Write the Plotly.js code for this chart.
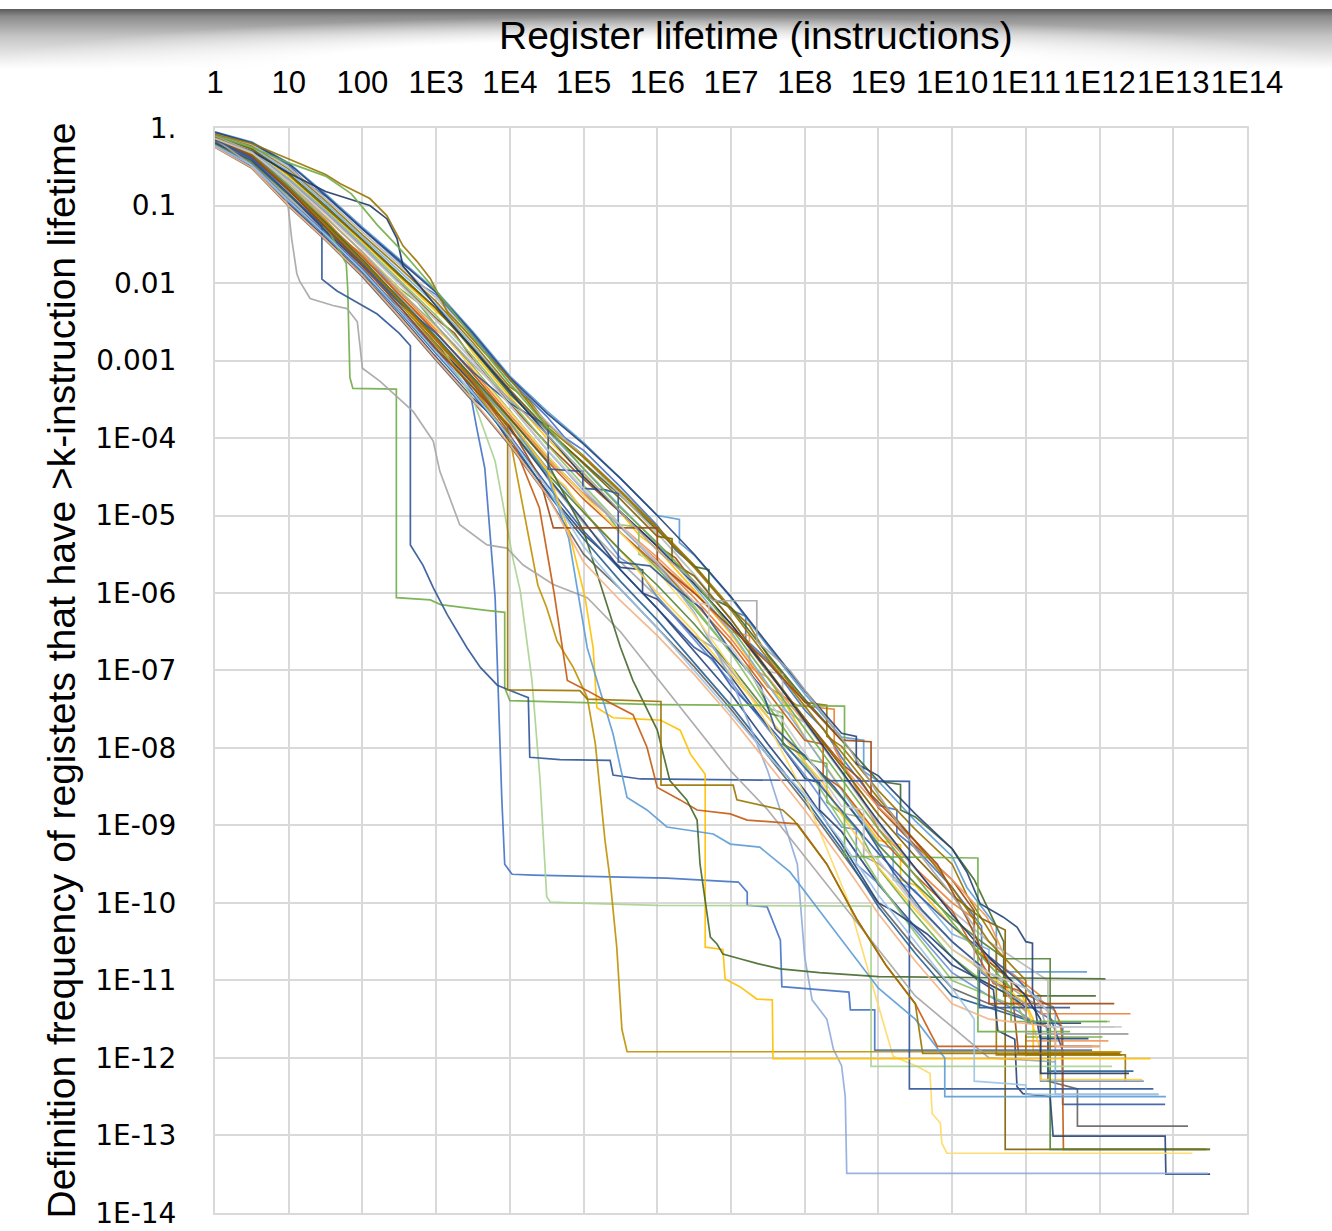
<!DOCTYPE html>
<html><head><meta charset="utf-8">
<script src="https://cdn.plot.ly/plotly-3.0.1.min.js"></script>
<style>
html,body{margin:0;padding:0;background:#fff;}
#wrap{position:relative;width:1332px;height:1231px;overflow:hidden;background:#fff;}
#band{position:absolute;left:0;top:9px;width:1332px;height:60px;
 background: radial-gradient(ellipse 52% 88% at 50% 100%, #fff 55%, rgba(255,255,255,0) 100%),
             linear-gradient(to bottom, #5a5a5a 0%, #8a8a8a 12%, #c4c4c4 45%, #fff 100%);}
#chart{position:absolute;left:0;top:0;width:1332px;height:1231px;}
</style></head><body>
<div id="wrap"><div id="band"></div><div id="chart"></div></div>
<script>
// Each series: pairs of [log10(lifetime), log10(frequency)]
const s01=[[0,-.06],[.5,-.20],[1,-.48],[1.25,-.72],[1.5,-.88],[2,-1.31],[2.5,-1.73],[2.75,-2.0],[3,-2.15],[3.5,-2.68],[4,-3.25],[4.5,-3.72],[4.75,-4.0],[5,-4.16],[5.5,-4.63],[6,-5.13],[6.25,-5.45],[6.5,-5.65],[7,-6.22],[7.2,-6.3],[7.2,-6.6],[7.5,-6.87],[8,-7.51],[8.25,-7.75],[8.5,-8.12],[9,-8.74],[9.25,-8.8],[9.25,-9.1],[9.5,-9.29],[10,-9.8],[10.4,-10.3],[10.4,-10.9],[11,-11.3],[11.5,-11.6],[11.5,-11.85],[11.9,-11.85]];
const s02=[[0,-.16],[.5,-.37],[1,-.76],[1.5,-1.18],[1.75,-1.45],[2,-1.63],[2.5,-2.11],[3,-2.60],[3.25,-2.80],[3.5,-3.13],[4,-3.70],[4.5,-4.24],[5,-4.72],[5.25,-4.88],[5.5,-5.15],[6,-5.58],[6.5,-6.06],[7,-6.59],[7.5,-7.21],[7.9,-7.45],[8.4,-7.5],[8.4,-8.0],[9,-9.04],[9.5,-9.55],[10,-10.0],[10.3,-10.2],[10.3,-10.6],[10.8,-10.9],[11.2,-11.2],[11.2,-11.43],[12.42,-11.43]];
const s03=[[0,-.21],[.5,-.45],[1,-.90],[1.5,-1.33],[2,-1.79],[2.25,-2.1],[2.5,-2.30],[3,-2.82],[3.5,-3.35],[4,-3.92],[4.25,-4.1],[4.5,-4.51],[5,-5.1],[5.5,-5.6],[6,-6.05],[6.5,-6.55],[6.75,-6.7],[7,-7.0],[7.5,-7.6],[8,-8.18],[8.5,-8.84],[8.8,-8.9],[8.8,-9.4],[9,-9.49],[9.25,-9.7],[9.5,-10.02],[10,-10.5],[10.5,-10.9],[10.8,-11.1],[11.2,-11.35],[11.3,-11.69],[12.39,-11.69]];
const s04=[[0,-.11],[.5,-.28],[1,-.62],[1.5,-1.03],[2,-1.47],[2.5,-1.92],[3,-2.37],[3.25,-2.55],[3.5,-2.90],[4,-3.47],[4.5,-4.0],[5,-4.48],[5.5,-4.96],[5.75,-5.25],[6,-5.43],[6.5,-5.96],[7,-6.53],[7.5,-7.19],[7.75,-7.45],[8,-7.86],[8.5,-8.52],[9,-9.19],[9.3,-9.25],[9.3,-9.7],[9.5,-9.77],[10,-10.3],[10.5,-10.75],[10.9,-11.10],[11.1,-11.50],[11.1,-11.92],[12.25,-11.92]];
const s05=[[0,-.05],[.5,-.18],[1,-.45],[1.5,-.85],[2,-1.28],[2.5,-1.69],[3,-2.10],[3.5,-2.63],[4,-3.20],[4.5,-3.65],[5,-4.06],[5.5,-4.52],[6,-5.0],[6.3,-5.05],[6.3,-5.35],[6.5,-5.51],[7,-6.06],[7.5,-6.69],[8,-7.30],[8.5,-7.86],[8.8,-7.9],[8.8,-8.3],[9,-8.43],[9.5,-8.94],[10,-9.4],[10.2,-9.8],[10.6,-10.3],[10.6,-10.89],[11.83,-10.89]];
const s06=[[0,-.15],[.5,-.35],[1,-.73],[1.5,-1.15],[2,-1.6],[2.5,-2.07],[2.75,-2.25],[3,-2.55],[3.5,-3.08],[4,-3.65],[4.5,-4.22],[5,-4.74],[5.25,-4.9],[5.5,-5.22],[6,-5.68],[6.5,-6.20],[7,-6.77],[7.25,-7.0],[7.5,-7.45],[8,-8.14],[8.3,-8.2],[8.3,-8.7],[8.5,-8.84],[8.75,-9.1],[9,-9.55],[9.5,-10.15],[10,-10.7],[10.4,-11.0],[10.8,-11.2],[11,-11.4],[11,-11.73],[12.04,-11.73]];
const s07=[[0,-.24],[.5,-.50],[1,-.98],[1.5,-1.42],[2,-1.89],[2.5,-2.41],[3,-2.96],[3.5,-3.49],[3.75,-3.7],[4,-4.06],[4.5,-4.68],[5,-5.24],[5.5,-5.67],[5.8,-5.7],[5.8,-6.0],[6,-6.08],[6.5,-6.56],[7,-7.08],[7.5,-7.73],[8,-8.39],[8.2,-8.45],[8.2,-8.8],[8.5,-9.08],[9,-9.76],[9.5,-10.31],[10,-10.8],[10.5,-11.05],[10.8,-11.2],[11,-11.35],[11,-11.55],[11.75,-11.55]];
const s08=[[0,-.13],[.5,-.32],[1,-.67],[1.5,-1.09],[2,-1.54],[2.5,-1.99],[3,-2.46],[3.25,-2.65],[3.5,-2.99],[4,-3.56],[4.5,-4.07],[5,-4.53],[5.5,-4.96],[6,-5.39],[6.25,-5.55],[6.5,-5.87],[7,-6.40],[7.5,-7.02],[8,-7.62],[8.5,-8.2],[8.75,-8.4],[9,-8.77],[9.5,-9.26],[10,-9.7],[10.3,-10.1],[10.3,-10.6],[10.8,-11.0],[10.9,-11.94],[12.28,-11.94]];
const s09=[[0,-.25],[.5,-.52],[1,-1.01],[1.5,-1.45],[2,-1.92],[2.5,-2.45],[3,-3.0],[3.5,-3.53],[4,-4.10],[4.5,-4.74],[5,-5.5],[5.5,-5.95],[6,-6.45],[6.5,-6.95],[7,-7.5],[7.5,-8.1],[8,-8.7],[8.5,-9.35],[9,-10.0],[9.5,-10.58],[10,-11.1],[10.5,-11.3],[11.3,-11.6],[11.3,-12.30],[11.7,-12.40],[11.7,-12.88],[13.2,-12.88]];
const s10=[[0,-.08],[.5,-.23],[1,-.53],[1.5,-.94],[2,-1.38],[2.5,-1.80],[3,-2.24],[3.5,-2.77],[4,-3.34],[4.25,-3.5],[4.5,-3.81],[5,-4.23],[5.5,-4.68],[6,-5.15],[6.5,-5.64],[7,-6.19],[7.25,-6.42],[7.5,-6.81],[8,-7.41],[8.3,-7.45],[8.3,-7.85],[8.5,-7.98],[9,-8.55],[9.5,-9.05],[10,-9.5],[10.2,-9.9],[10.6,-10.5],[10.6,-11.96],[12.35,-11.96],[12.35,-12.30]];
const s11=[[0,-.23],[.5,-.49],[1,-.95],[1.5,-1.39],[2,-1.86],[2.5,-2.37],[3,-2.91],[3.5,-3.44],[4,-4.01],[4.5,-4.7],[5,-5.3],[5.5,-5.85],[6,-6.35],[6.5,-6.9],[7,-7.45],[7.5,-8.05],[8,-8.65],[8.5,-9.3],[9,-10.05],[9.5,-10.65],[10,-11.2],[10.5,-11.35],[11.0,-11.5],[11.3,-11.6],[11.3,-12.17],[12.46,-12.17]];
const s12=[[0,-.10],[.5,-.27],[1,-.59],[1.5,-1.0],[2,-1.44],[2.5,-1.88],[3,-2.33],[3.5,-2.86],[4,-3.43],[4.5,-3.90],[5,-4.32],[5.5,-4.74],[6,-5.19],[6.5,-5.66],[6.7,-5.7],[6.7,-6.05],[7,-6.19],[7.5,-6.79],[8,-7.37],[8.5,-7.9],[9,-8.43],[9.3,-8.47],[9.3,-8.8],[9.5,-8.89],[10,-9.3],[10.3,-9.7],[10.7,-10.5],[10.7,-11.2],[11.95,-11.2]];
const s13=[[0,-.18],[.5,-.40],[1,-.81],[1.5,-1.24],[2,-1.70],[2.25,-1.87],[2.5,-2.18],[3,-2.69],[3.5,-3.22],[4,-3.79],[4.5,-4.38],[5,-4.93],[5.5,-5.55],[5.75,-5.7],[6,-6.05],[6.5,-6.6],[7,-7.15],[7.5,-7.75],[8,-8.35],[8.5,-9.02],[8.7,-9.05],[8.7,-9.5],[9,-9.75],[9.5,-10.35],[10,-10.9],[10.5,-11.2],[10.9,-11.4],[11.2,-11.6],[11.2,-12.30],[12.6,-12.30]];
const s14=[[0,-.17],[.5,-.38],[1,-.79],[1.5,-1.21],[2,-1.66],[2.5,-2.15],[3,-2.64],[3.5,-3.17],[4,-3.74],[4.5,-4.27],[5,-4.73],[5.5,-5.13],[6,-5.54],[6.5,-5.99],[7,-6.50],[7.25,-6.55],[7.25,-6.95],[7.5,-7.09],[8,-7.67],[8.5,-8.22],[9,-8.76],[9.5,-9.21],[9.66,-9.41],[10,-9.70],[10.47,-10.18],[10.72,-10.70],[10.75,-11.20],[11.0,-11.40],[11.0,-11.78],[12.12,-11.78]];
const s15=[[0,-.07],[.5,-.21],[1,-.51],[1.5,-.91],[2,-1.34],[2.5,-1.77],[3,-2.19],[3.5,-2.72],[4,-3.29],[4.5,-3.79],[5,-4.25],[5.5,-4.73],[6,-5.23],[6.5,-5.76],[7,-6.34],[7.5,-7.01],[7.7,-7.05],[7.7,-7.5],[8,-7.67],[8.5,-8.32],[9,-8.98],[9.5,-9.56],[10,-10.1],[10.5,-10.5],[10.9,-10.75],[11.3,-11.0],[11.3,-11.60],[12.2,-11.60]];
const s16=[[0,-.19],[.5,-.42],[1,-.84],[1.5,-1.27],[2,-1.73],[2.5,-2.22],[3,-2.73],[3.5,-3.26],[4,-3.83],[4.5,-4.42],[4.75,-4.62],[5,-4.95],[5.5,-5.45],[6,-6.0],[6.5,-6.5],[7,-7.05],[7.5,-7.6],[8,-8.18],[8.25,-8.45],[8.5,-8.86],[9,-9.54],[9.5,-10.09],[10,-10.6],[10.6,-11.0],[11,-11.3],[11.2,-11.9],[11.2,-12.28],[12.58,-12.28]];
const s17=[[0,-.09],[.5,-.25],[1,-.56],[1.5,-.97],[2,-1.41],[2.5,-1.84],[3,-2.28],[3.5,-2.81],[4,-3.38],[4.5,-3.90],[5,-4.39],[5.5,-4.87],[6,-5.37],[6.5,-5.91],[7,-6.50],[7.5,-7.18],[8,-7.86],[8.5,-8.54],[9,-9.24],[9.2,-9.3],[9.2,-9.7],[9.5,-9.84],[10,-10.4],[10.5,-10.6],[10.5,-10.9],[11,-11.1],[11.4,-11.40],[11.4,-12.47],[12.8,-12.47]];
const s18=[[0,-.12],[.5,-.30],[1,-.65],[1.5,-1.06],[2,-1.50],[2.5,-1.96],[3,-2.42],[3.5,-2.95],[4,-3.52],[4.5,-4.08],[5,-4.61],[5.5,-5.12],[5.75,-5.15],[5.75,-5.5],[6,-5.62],[6.5,-6.17],[7,-6.77],[7.5,-7.48],[7.7,-7.55],[7.7,-7.95],[8,-8.21],[8.5,-8.96],[9,-9.73],[9.5,-10.39],[10,-11.0],[10.5,-11.2],[10.9,-11.35],[11,-11.53],[12.14,-11.53]];
const s19=[[0,-.22],[.5,-.47],[1,-.93],[1.5,-1.36],[2,-1.82],[2.5,-2.34],[3,-2.87],[3.25,-3.07],[3.5,-3.40],[4,-3.97],[4.5,-4.6],[5,-5.2],[5.5,-5.7],[6,-6.2],[6.5,-6.7],[6.75,-6.85],[7,-7.2],[7.5,-7.7],[8,-8.25],[8.5,-8.8],[9,-9.36],[9.5,-9.86],[10,-10.3],[10.9,-11.0],[11.3,-11.40],[11.5,-11.90],[11.5,-12.60],[12.89,-12.60]];
const s20=[[0,-.17],[.5,-.38],[1,-.79],[1.5,-1.21],[2,-1.66],[2.5,-2.15],[3,-2.64],[3.5,-3.17],[4,-3.74],[4.5,-4.29],[5,-4.79],[5.5,-5.22],[6,-5.64],[6.5,-6.12],[7,-6.65],[7.5,-7.28],[8,-7.90],[8.25,-7.95],[8.25,-8.35],[8.5,-8.52],[9,-9.13],[9.5,-9.64],[10,-10.1],[10.3,-10.6],[10.56,-11.04],[10.88,-11.12],[11.15,-11.25],[11.37,-11.34],[11.47,-11.56],[11.49,-11.72],[11.51,-13.18],[13.5,-13.18]];
const s21=[[0,-.10],[.5,-.27],[1,-.60],[1.5,-1.02],[2,-1.45],[2.5,-1.90],[3,-2.33],[3.5,-2.84],[4,-3.38],[4.5,-3.88],[5,-4.33],[5.5,-4.79],[6,-5.27],[6.2,-5.3],[6.2,-5.6],[6.5,-5.78],[7,-6.34],[7.5,-6.99],[8,-7.62],[8.5,-8.24],[9,-8.86],[9.5,-9.40],[10,-9.9],[10.4,-10.2],[10.72,-10.35],[10.72,-13.18],[13.45,-13.18]];
const s22=[[0,-.20],[.5,-.44],[1,-.87],[1.5,-1.30],[2,-1.76],[2.5,-2.26],[3,-2.78],[3.5,-3.31],[4,-3.88],[4.5,-4.45],[5,-4.96],[5.5,-5.45],[6,-5.9],[6.5,-6.4],[7,-6.95],[7.5,-7.55],[7.7,-7.6],[7.7,-7.95],[8,-8.1],[8.5,-8.64],[9,-9.25],[9.5,-9.75],[10,-10.2],[10.4,-10.5],[10.72,-10.72],[11.33,-10.72],[11.33,-13.18],[13.5,-13.18]];
const s23=[[0,-.19],[.5,-.42],[1,-.85],[1.5,-1.33],[2,-1.78],[2.5,-2.24],[3,-2.80],[3.5,-3.29],[4,-3.88],[4.5,-4.49],[5,-5.07],[5.5,-5.7],[6,-6.2],[6.5,-6.75],[7,-7.3],[7.5,-7.95],[8,-8.55],[8.5,-9.24],[9,-10.0],[9.2,-10.1],[9.66,-10.4],[10.1,-10.79],[10.34,-10.99],[10.56,-11.12],[10.62,-11.65],[10.85,-11.76],[10.88,-12.37],[10.96,-12.46],[11.33,-12.50],[11.37,-13.01],[12.89,-13.01],[12.9,-13.50],[13.5,-13.50]];
const s24=[[0,-.11],[.5,-.30],[1,-.66],[1.5,-1.08],[2,-1.52],[2.5,-2.0],[3,-2.48],[3.5,-3.0],[4,-3.58],[4.5,-4.15],[5,-4.68],[5.5,-5.15],[6,-5.62],[6.5,-6.25],[7,-7.10],[7.5,-8.30],[7.9,-9.50],[8.0,-10.70],[8.1,-11.25],[8.3,-11.50],[8.39,-11.89],[8.5,-12.10],[8.55,-12.50],[8.57,-13.49],[13.47,-13.49]];
const s25=[[0,-.13],[.5,-.34],[1,-.72],[1.5,-1.14],[2,-1.60],[2.5,-2.08],[3,-2.58],[3.5,-3.10],[4,-3.66],[4.5,-4.22],[5,-4.74],[5.5,-5.22],[6,-5.72],[6.5,-6.28],[7,-6.95],[7.5,-7.70],[8,-8.60],[8.6,-10.00],[8.9,-11.00],[9.2,-11.98],[9.53,-12.11],[9.7,-12.20],[9.73,-12.72],[9.84,-12.84],[9.86,-13.10],[9.93,-13.23],[13.26,-13.23]];
const s26=[[0,-.15],[.5,-.38],[1,-.80],[1.5,-1.25],[2,-1.75],[2.5,-2.30],[3,-2.85],[3.46,-3.40],[3.55,-3.87],[3.66,-4.39],[3.8,-6.06],[3.89,-8.64],[3.93,-9.50],[4.03,-9.63],[4.31,-9.64],[6.13,-9.68],[7.1,-9.73],[7.22,-9.86],[7.22,-10.03],[7.49,-10.05],[7.67,-10.48],[7.69,-11.08],[7.94,-11.10],[8.6,-11.15],[8.62,-11.38],[8.95,-11.38],[8.95,-11.90],[11.9,-11.90]];
const s27=[[0,-.13],[.5,-.34],[1,-.76],[1.5,-1.22],[2,-1.70],[2.5,-2.20],[3,-2.70],[3.5,-3.50],[3.8,-4.30],[4.04,-5.55],[4.14,-5.97],[4.23,-6.62],[4.3,-7.13],[4.41,-8.42],[4.5,-9.92],[4.55,-9.99],[4.82,-10.00],[6.0,-10.03],[8.9,-10.04],[8.9,-12.11],[12.17,-12.11]];
const s28=[[0,-.12],[.5,-.33],[1,-.75],[1.5,-1.20],[2,-1.70],[2.5,-2.25],[3,-2.80],[3.5,-3.35],[4,-4.00],[4.2,-5.00],[4.38,-5.90],[4.5,-6.19],[4.64,-6.62],[4.86,-6.96],[5.05,-7.35],[5.16,-7.95],[5.22,-8.55],[5.29,-9.19],[5.36,-9.70],[5.45,-10.57],[5.52,-11.63],[5.59,-11.92],[12.3,-11.92]];
const s29=[[0,-.12],[.5,-.33],[1,-.74],[1.5,-1.25],[1.78,-1.75],[1.8,-2.07],[1.83,-3.22],[1.87,-3.36],[2.46,-3.37],[2.46,-6.06],[2.92,-6.09],[3.06,-6.15],[3.65,-6.22],[3.93,-6.25],[3.93,-7.22],[4.0,-7.39],[6.0,-7.44],[8.54,-7.46],[8.54,-9.40],[10.35,-9.42],[10.35,-11.66],[11.6,-11.66]];
const s30=[[0,-.16],[.5,-.40],[1,-.85],[1.4,-1.20],[1.45,-1.25],[1.45,-1.95],[1.65,-2.10],[2.2,-2.40],[2.5,-2.65],[2.65,-2.81],[2.65,-5.38],[2.82,-5.64],[2.96,-5.93],[3.15,-6.28],[3.42,-6.71],[3.6,-6.96],[3.83,-7.19],[4.14,-7.31],[4.25,-7.35],[4.27,-8.12],[4.68,-8.15],[5.36,-8.16],[5.4,-8.35],[5.77,-8.40],[7.67,-8.42],[9.42,-8.43],[9.42,-12.40],[12.73,-12.40]];
const s31=[[0,-.14],[.47,-.46],[.95,-.91],[.99,-1.0],[1.04,-1.43],[1.11,-1.88],[1.15,-1.98],[1.29,-2.2],[1.6,-2.29],[1.79,-2.33],[1.93,-2.5],[2.0,-3.1],[2.24,-3.27],[2.69,-3.66],[2.96,-4.04],[3.05,-4.43],[3.32,-5.12],[3.69,-5.38],[3.96,-5.42],[4.18,-5.64],[4.59,-5.89],[5.05,-6.06],[5.5,-6.5],[6.0,-7.1],[6.5,-7.7],[7.0,-8.3],[7.5,-8.8],[8.0,-9.4],[8.5,-10.0],[9.0,-10.6],[9.5,-11.2],[10.0,-11.6],[10.5,-12.0],[11.4,-12.05]];
const s32=[[0,-.14],[.5,-.36],[1,-.80],[1.5,-1.26],[2,-1.74],[2.5,-2.24],[3,-2.74],[3.5,-3.24],[4,-3.78],[4.5,-4.40],[4.8,-5.20],[5.02,-6.06],[5.13,-6.71],[5.18,-7.48],[5.4,-7.61],[6.04,-7.64],[6.31,-7.77],[6.45,-8.08],[6.65,-8.34],[6.65,-10.57],[6.89,-10.60],[6.92,-10.98],[7.12,-11.08],[7.35,-11.24],[7.56,-11.25],[7.57,-12.01],[12.69,-12.01]];
const s33=[[0,-.12],[.5,-.33],[1,-.75],[1.5,-1.22],[2,-1.70],[2.5,-2.20],[3,-2.72],[3.5,-3.25],[4,-3.80],[4.5,-4.45],[4.8,-5.30],[5.05,-6.71],[5.4,-7.82],[5.59,-8.64],[5.86,-8.80],[6.13,-9.02],[6.76,-9.11],[6.99,-9.24],[7.39,-9.28],[7.8,-9.60],[8.2,-10.10],[8.6,-10.60],[9.0,-11.10],[9.5,-11.50],[9.9,-12.00],[9.9,-12.50],[12.9,-12.50]];
const s34=[[0,-.13],[.5,-.35],[1,-.78],[1.5,-1.24],[2,-1.72],[2.5,-2.22],[3,-2.74],[3.5,-3.28],[4,-3.95],[4.4,-4.90],[4.6,-6.00],[4.78,-7.13],[5.05,-7.26],[5.22,-7.35],[5.67,-7.57],[5.86,-7.99],[6.0,-8.51],[6.31,-8.67],[6.54,-8.80],[6.99,-8.85],[7.22,-8.93],[7.9,-8.98],[8.3,-9.50],[8.7,-10.20],[9.1,-10.80],[9.5,-11.30],[9.8,-11.85],[12.0,-11.85]];
const s35=[[0,-.13],[.5,-.35],[1,-.77],[1.5,-1.22],[2,-1.70],[2.5,-2.20],[3,-2.70],[3.5,-3.22],[4,-3.75],[4.5,-4.30],[5,-5.20],[5.5,-6.70],[5.67,-7.13],[6.0,-7.77],[6.17,-8.42],[6.4,-8.67],[6.54,-8.93],[6.58,-9.50],[6.65,-9.96],[6.72,-10.44],[6.81,-10.53],[6.89,-10.66],[7.12,-10.72],[7.35,-10.78],[7.67,-10.85],[8.2,-10.90],[9.0,-10.95],[12.08,-10.98]];
const s36=[[0,-.15],[.5,-.37],[1,-.80],[1.5,-1.27],[2,-1.75],[2.5,-2.25],[3,-2.65],[3.5,-3.15],[4,-3.55],[4.52,-3.85],[4.52,-4.40],[4.99,-4.43],[4.99,-4.65],[5.3,-4.67],[5.47,-4.72],[5.47,-5.60],[5.9,-5.65],[6.2,-5.90],[6.6,-6.20],[7.0,-6.75],[7.4,-7.20],[7.6,-7.75],[8.0,-8.10],[8.4,-8.50],[8.8,-9.00],[9.2,-9.60],[9.6,-10.10],[10.0,-10.50],[10.37,-10.80],[10.37,-11.35],[11.6,-11.35]];
const s37=[[0,-.055],[.5,-.19],[1,-.46],[1.5,-.87],[2,-1.30],[2.5,-1.71],[3,-2.12],[3.5,-2.65],[4,-3.22],[4.5,-3.68],[5,-4.08],[5.5,-4.52],[6,-5.0],[6.5,-5.50],[7,-6.05],[7.5,-6.66],[8,-7.26],[8.5,-7.81],[8.7,-7.85],[8.7,-8.2],[9,-8.36],[9.5,-8.85],[10,-9.3],[10.2,-9.6],[10.38,-10.01],[10.69,-10.18],[10.88,-10.31],[11.0,-10.50],[11.09,-10.52],[11.09,-11.12],[11.17,-11.63],[11.2,-11.75],[11.85,-11.75]];
const s38=[[0,-.08],[.5,-.20],[1,-.40],[1.5,-.60],[1.7,-.72],[2.1,-.91],[2.33,-1.13],[2.55,-1.52],[2.74,-1.72],[2.92,-1.94],[3.15,-2.37],[3.37,-2.59],[3.64,-2.88],[3.91,-3.14],[4.14,-3.40],[4.5,-3.85],[5,-4.25],[5.5,-4.70],[6,-5.17],[6.5,-5.67],[7,-6.22],[7.5,-6.85],[8,-7.46],[8.5,-8.05],[9,-8.65],[9.5,-9.2],[10,-9.8],[10.5,-10.5],[11.0,-11.0],[11.0,-11.96],[12.3,-11.96]];
const s39=[[0,-.14],[.5,-.30],[1,-.58],[1.5,-.82],[2.1,-1.00],[2.33,-1.17],[2.47,-1.43],[2.55,-1.78],[2.69,-1.94],[3,-2.30],[3.5,-2.85],[4,-3.40],[4.5,-3.95],[5,-4.50],[5.5,-4.95],[6,-5.40],[6.5,-5.88],[7,-6.40],[7.5,-7.0],[8,-7.65],[8.5,-8.3],[9,-8.95],[9.5,-9.55],[10,-10.15],[10.5,-10.7],[11,-11.2],[11.2,-11.5],[11.2,-12.20],[12.4,-12.20]];
const s40=[[0,-.10],[.5,-.25],[1,-.45],[1.5,-.62],[1.85,-.85],[2.2,-1.25],[2.5,-1.55],[3,-2.10],[3.5,-2.70],[4,-3.30],[4.5,-3.85],[5,-4.40],[5.5,-4.90],[6,-5.35],[6.5,-5.85],[7,-6.45],[7.5,-7.1],[8,-7.75],[8.5,-8.4],[9,-9.05],[9.5,-9.65],[10,-10.25],[10.5,-10.8],[10.8,-11.1],[10.8,-11.53],[12.1,-11.53]];
const s41=[[0,-.13],[.5,-.36],[1,-.80],[1.5,-1.28],[2,-1.78],[2.5,-2.30],[3,-2.85],[3.5,-3.35],[4,-3.85],[4.4,-4.50],[4.59,-5.16],[6.0,-5.16],[6.0,-5.60],[6.5,-6.00],[7,-6.45],[7.5,-6.90],[8,-7.40],[8.5,-7.90],[8.9,-7.92],[8.9,-8.60],[9.3,-9.00],[9.8,-9.50],[10.2,-10.20],[10.5,-10.80],[10.5,-11.30],[12.2,-11.30]];
const s42=[[0,-.11],[.5,-.31],[1,-.70],[1.5,-1.15],[2,-1.60],[2.5,-2.10],[3,-2.55],[3.5,-3.05],[4,-3.50],[4.5,-3.95],[5,-4.45],[5.5,-4.95],[6,-5.45],[6.5,-5.85],[6.76,-6.10],[7.35,-6.10],[7.35,-6.62],[7.8,-7.00],[8.2,-7.50],[8.6,-8.00],[9,-8.60],[9.5,-9.30],[10,-9.90],[10.3,-10.30],[10.3,-10.80],[10.8,-11.20],[11.0,-11.30],[11.0,-11.69],[12.39,-11.69]];
const s43=[[0,-.12],[.5,-.34],[1,-.77],[1.5,-1.24],[2,-1.72],[2.5,-2.22],[3,-2.72],[3.5,-3.25],[3.97,-3.85],[3.97,-7.25],[4.95,-7.26],[5.05,-7.37],[6.05,-7.40],[6.05,-8.48],[7.03,-8.48],[7.08,-8.67],[7.7,-8.80],[7.85,-8.93],[8.3,-9.50],[8.7,-10.20],[9.1,-10.80],[9.5,-11.30],[9.6,-11.94],[12.28,-11.94]];
const s44=[[0,-.245],[.5,-.51],[1,-1.0],[1.5,-1.44],[2,-1.90],[2.5,-2.43],[3,-2.98],[3.5,-3.51],[4,-4.08],[4.5,-4.73],[5,-5.6],[5.5,-6.1],[6,-6.55],[6.5,-7.05],[7,-7.6],[7.5,-8.2],[8,-8.8],[8.5,-9.45],[9,-10.14],[9.5,-10.75],[10,-11.3],[10.5,-11.5],[11.4,-11.6],[11.4,-11.85],[12.0,-11.85]];
const s45=[[0,-.135],[.5,-.32],[1,-.69],[1.5,-1.11],[2,-1.55],[2.5,-2.01],[3,-2.48],[3.5,-3.01],[4,-3.58],[4.5,-4.14],[5,-4.65],[5.5,-5.13],[6,-5.60],[6.5,-6.12],[6.7,-6.15],[6.7,-6.55],[7,-6.70],[7.5,-7.37],[8,-8.06],[8.5,-8.75],[8.8,-8.8],[8.8,-9.3],[9,-9.45],[9.5,-10.05],[10,-10.6],[10.5,-10.9],[11,-11.1],[11.3,-11.40],[11.3,-11.60],[12.3,-11.60]];
const s46=[[0,-.225],[.5,-.48],[1,-.94],[1.5,-1.375],[2,-1.84],[2.5,-2.355],[3,-2.89],[3.5,-3.42],[4,-3.99],[4.5,-4.64],[5,-5.4],[5.5,-5.95],[6,-6.45],[6.5,-7.0],[7,-7.55],[7.5,-8.1],[8,-8.6],[8.5,-9.2],[9,-9.9],[9.5,-10.5],[10,-11.1],[10.3,-11.5],[10.3,-12.30],[11.0,-12.35],[11.0,-12.47],[12.8,-12.47]];

const seriesList=[s01,s02,s03,s04,s05,s06,s07,s08,s09,s10,s11,s12,s13,s14,s15,s16,s17,s18,s19,s20,s21,s22,s23,s24,s25,s26,s27,s28,s29,s30,s31,s32,s33,s34,s35,s36,s37,s38,s39,s40,s41,s42,s43,s44,s45,s46];
const seriesColors=['#4472C4','#ED7D31','#A5A5A5','#FFC000','#5B9BD5','#70AD47','#264478','#9E480E','#636363','#997300','#255E91','#43682B','#698ED0','#F1975A','#B7B7B7','#FFCD33','#7CAFDD','#8CC168','#335AA1','#C55A11','#7F6000','#548235','#264478','#8FAADC','#FFD966','#4472C4','#A9D18E','#BF9000','#70AD47','#2F5597','#A5A5A5','#FFC000','#5B9BD5','#C55A11','#43682B','#2F5597','#264478','#997300','#1F3864','#70AD47','#9E480E','#A5A5A5','#997300','#F4B183','#C9C9C9','#9DC3E6'];

const xTickVals=[1,10,100,1e3,1e4,1e5,1e6,1e7,1e8,1e9,1e10,1e11,1e12,1e13,1e14];
const xTickLabels=['1','10','100','1E3','1E4','1E5','1E6','1E7','1E8','1E9','1E10','1E11','1E12','1E13','1E14'];
const yTickVals=[1,0.1,0.01,0.001,1e-4,1e-5,1e-6,1e-7,1e-8,1e-9,1e-10,1e-11,1e-12,1e-13,1e-14];
const yTickLabels=['1.','0.1','0.01','0.001','1E-04','1E-05','1E-06','1E-07','1E-08','1E-09','1E-10','1E-11','1E-12','1E-13','1E-14'];
const xTitle='Register lifetime (instructions)';
const yTitle='Definition frequency of registets that have >k-instruction lifetime';

const traces=seriesList.map((s,i)=>({
  type:'scatter', mode:'lines',
  x:s.map(p=>Math.pow(10,p[0])),
  y:s.map(p=>Math.pow(10,p[1])),
  line:{color:seriesColors[i],width:1.7},
  opacity:0.9, hoverinfo:'skip', showlegend:false
}));

const titleFont={family:'Liberation Sans, Arial, sans-serif',color:'#000'};
const layout={
  width:1332,height:1231,
  margin:{l:215,r:85,t:128,b:18},
  paper_bgcolor:'rgba(0,0,0,0)',plot_bgcolor:'#ffffff',
  showlegend:false,
  xaxis:{type:'log',side:'top',range:[-0.0005,14.0005],tickmode:'array',tickvals:xTickVals,ticktext:xTickLabels,
    tickangle:0,
    tickfont:{family:'Liberation Sans, Arial, sans-serif',size:31,color:'#000'},ticks:'',
    showgrid:true,gridcolor:'#d9d9d9',gridwidth:2,zeroline:false,
    showline:true,linecolor:'#d9d9d9',linewidth:2,mirror:true,ticklabelstandoff:21,
    fixedrange:true,automargin:false},
  yaxis:{type:'log',range:[-14.001,0.0005],tickmode:'array',tickvals:yTickVals,ticktext:yTickLabels,
    tickfont:{family:'DejaVu Sans, Verdana, sans-serif',size:28,color:'#000'},ticks:'',
    ticklabeloverflow:'allow',
    showgrid:true,gridcolor:'#d9d9d9',gridwidth:2,zeroline:false,
    showline:true,linecolor:'#d9d9d9',linewidth:2,mirror:true,ticklabelstandoff:31,
    title:{text:yTitle,font:Object.assign({size:39},titleFont),standoff:8},
    fixedrange:true,automargin:false},
  annotations:[{text:xTitle,xref:'paper',yref:'paper',x:0.524,y:1.0856,xanchor:'center',yanchor:'middle',
    showarrow:false,font:Object.assign({size:39},titleFont)}]
};
Plotly.newPlot('chart',traces,layout,{staticPlot:true,displayModeBar:false});
</script></body></html>
